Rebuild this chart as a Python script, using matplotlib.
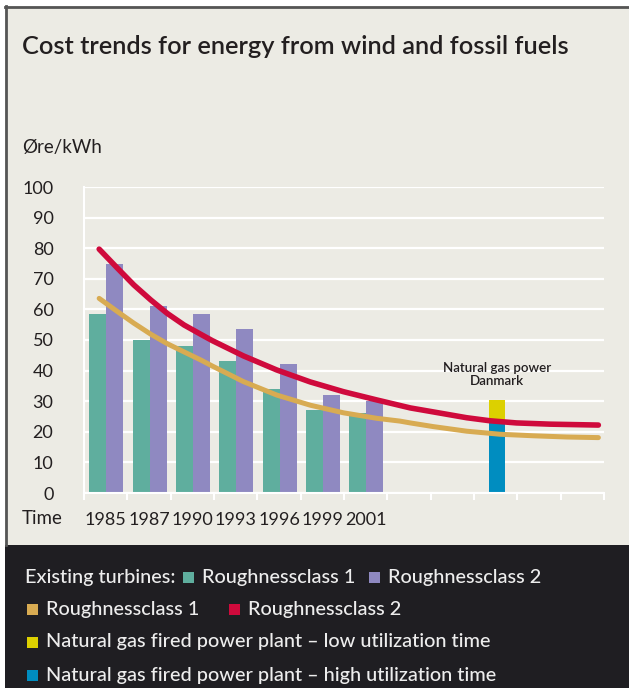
import matplotlib
matplotlib.use("Agg")
import matplotlib.pyplot as plt
from matplotlib.patches import Rectangle
from matplotlib.lines import Line2D

plt.rcParams['font.family'] = ['Lato', 'DejaVu Sans']

# bar data, one value per year
years = ['1985', '1987', '1990', '1993', '1996', '1999', '2001']
rc1_bars = [58.5, 50, 48, 43, 34, 27, 26]
rc2_bars = [75, 61, 58.5, 53.5, 42, 32, 30]

# natural gas plant, Denmark
gas_high = 23.5
gas_low = 30.5

# trend curves (x in year-slot units)
rc2_x = [0.35, 0.77, 1.15, 1.54, 1.92, 2.31, 2.69, 2.96, 3.68, 4.45, 5.22, 5.99,
         6.76, 7.53, 8.06, 8.83, 9.37, 9.98, 10.75, 11.87]
trend_rc2 = [79.7, 73.5, 68.0, 63.1, 58.7, 54.9, 51.9, 49.8, 44.8, 40.2, 36.3, 33.1,
             30.4, 27.8, 26.5, 24.6, 23.6, 22.9, 22.5, 22.2]
rc1_x = [0.35, 0.77, 1.15, 1.54, 1.92, 2.31, 2.69, 2.96, 3.68, 4.45, 5.22, 5.99,
         6.76, 7.29, 7.53, 8.06, 8.83, 9.6, 10.37, 11.14, 11.87]
trend_rc1 = [63.6, 59.3, 55.5, 51.9, 48.8, 46.1, 43.5, 41.5, 36.4, 32.0, 28.7, 26.2,
             24.4, 23.5, 22.9, 21.7, 20.2, 19.2, 18.7, 18.3, 18.1]

bg = '#ECEBE4'
dark = '#1F1E22'
green = '#5FAE9E'
purple = '#8F89C1'
gold = '#D8AB52'
crimson = '#CF0A3C'
gas_yellow = '#DCD000'
gas_blue = '#008DC0'
ink = '#231F20'

W, H = 629, 688
fig = plt.figure(figsize=(W / 100, H / 100), dpi=100, facecolor='white')

def px(x, y):
    return x / W, 1 - y / H

# light panel with a grey frame on top/left, dark legend panel below
fig.patches.append(Rectangle(px(5, 545), (W - 5) / W, (545 - 6) / H, zorder=-5,
                             transform=fig.transFigure, facecolor=bg, edgecolor='none'))
fig.patches.append(Rectangle(px(5, H), (W - 5) / W, (H - 545) / H, zorder=-5,
                             transform=fig.transFigure, facecolor=dark, edgecolor='none'))
fig.lines.append(Line2D([5 / W, 1], [1 - 7 / H] * 2, transform=fig.transFigure,
                        color='#555555', lw=2, zorder=-4))
fig.lines.append(Line2D([6 / W] * 2, [1 - 6 / H, 1 - 545 / H], transform=fig.transFigure,
                        color='#555555', lw=2, zorder=-4))

fig.text(*px(22, 46), 'Cost trends for energy from wind and fossil fuels',
         fontsize=18.3, color=ink, va='center', ha='left', fontweight='semibold')
fig.text(*px(22, 147), 'Øre/kWh', fontsize=13.5, color=ink, va='center', ha='left')
fig.text(*px(22, 519), 'Time', fontsize=13.5, color=ink, va='center', ha='left')

ax = fig.add_axes([84 / W, 1 - 493 / H, 520 / W, 306 / H])
ax.set_facecolor('none')
ax.set_xlim(0, 12)
ax.set_ylim(0, 100)
for s in ['top', 'right']:
    ax.spines[s].set_visible(False)
for s in ['left', 'bottom']:
    ax.spines[s].set_color('white')
    ax.spines[s].set_linewidth(1.5)
ax.set_yticks(range(0, 101, 10))
ax.yaxis.grid(True, color='white', lw=1.6)
ax.set_axisbelow(True)
ax.tick_params(axis='y', length=0, pad=22, labelsize=13, labelcolor=ink)
ax.set_xticks(range(13))
ax.set_xticklabels([])
ax.tick_params(axis='x', which='major', length=5, width=1.5, color='white')
ax.set_xticks([i + 0.5 for i in range(len(years))], minor=True)
ax.set_xticklabels(years, minor=True)
ax.tick_params(axis='x', which='minor', length=0, pad=14, labelsize=13, labelcolor=ink)

idx = list(range(len(years)))
ax.bar([i + 0.32 for i in idx], rc1_bars, width=0.39, color=green, zorder=2)
ax.bar([i + 0.71 for i in idx], rc2_bars, width=0.39, color=purple, zorder=2)

gas_x = 9.53
ax.bar(gas_x, gas_high, width=0.37, color=gas_blue, zorder=2)
ax.bar(gas_x, gas_low - gas_high, bottom=gas_high, width=0.37, color=gas_yellow, zorder=2)
ax.text(gas_x, gas_low + 4.3, 'Natural gas power\nDanmark', ha='center', va='bottom',
        fontsize=9.6, color=ink, linespacing=1.05, fontweight='semibold')

ax.plot(rc1_x, trend_rc1, color=gold, lw=3.6, solid_capstyle='round',
        solid_joinstyle='round', zorder=3)
ax.plot(rc2_x, trend_rc2, color=crimson, lw=4.0, solid_capstyle='round',
        solid_joinstyle='round', zorder=4)

# legend rows in the dark panel, laid out left to right
fig.canvas.draw()
renderer = fig.canvas.get_renderer()
light = '#EDEDED'

def legend_row(y, items, x0=25):
    x = x0
    for kind, val in items:
        if kind == 'text':
            t = fig.text(*px(x, y), val, fontsize=14.3, color=light, va='center',
                         ha='left', fontweight='medium')
            x += t.get_window_extent(renderer).width
        elif kind == 'box':
            fig.patches.append(Rectangle(px(x, y + 5.5), 11 / W, 11 / H,
                                         transform=fig.transFigure, facecolor=val,
                                         edgecolor='none'))
            x += 11
        else:
            x += val

legend_row(577, [('text', 'Existing turbines:'), ('gap', 7), ('box', green), ('gap', 8),
                 ('text', 'Roughnessclass 1'), ('gap', 14), ('box', purple), ('gap', 8),
                 ('text', 'Roughnessclass 2')])
legend_row(609, [('gap', 2), ('box', gold), ('gap', 8), ('text', 'Roughnessclass 1'),
                 ('gap', 30), ('box', crimson), ('gap', 8), ('text', 'Roughnessclass 2')])
legend_row(642, [('gap', 2), ('box', gas_yellow), ('gap', 8),
                 ('text', 'Natural gas fired power plant – low utilization time')])
legend_row(675, [('gap', 2), ('box', gas_blue), ('gap', 8),
                 ('text', 'Natural gas fired power plant – high utilization time')])

fig.savefig('out.png', dpi=100, facecolor=fig.get_facecolor())
